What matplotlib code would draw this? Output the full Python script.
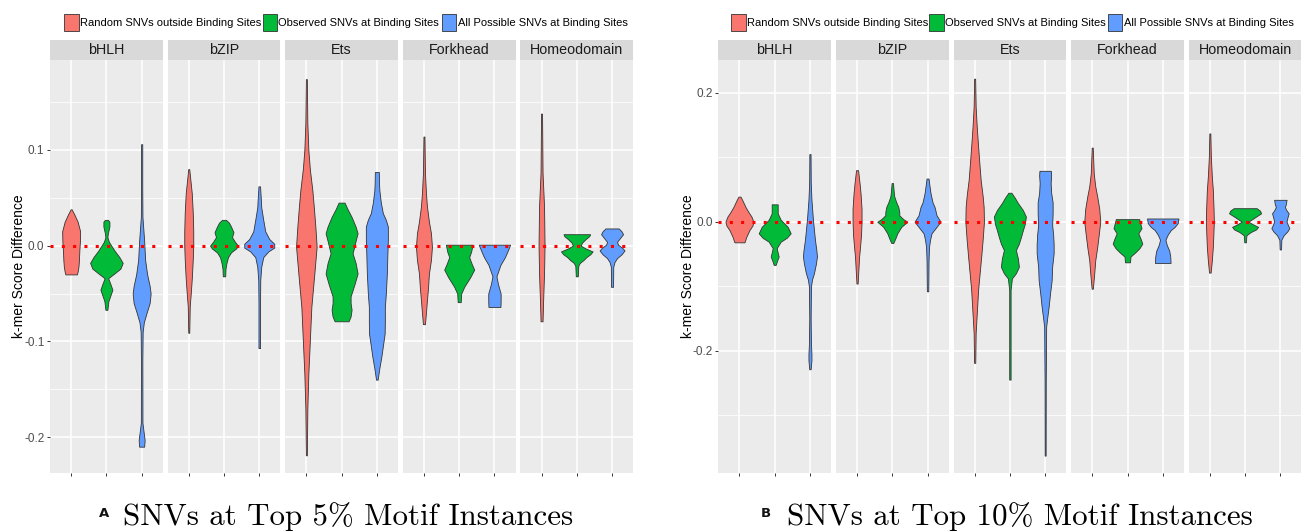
import matplotlib.pyplot as plt
from matplotlib.patches import Rectangle
import numpy as np

# Categorias y colores (estilo ggplot)
families = ["bHLH", "bZIP", "Ets", "Forkhead", "Homeodomain"]
groups = ["Random SNVs outside Binding Sites",
          "Observed SNVs at Binding Sites",
          "All Possible SNVs at Binding Sites"]
colors = ["#F8766D", "#00BA38", "#619CFF"]

# Perfiles de los violines: (valor, semi-ancho relativo)
# Panel A: top 5%
a_bhlh = [
    [(0.038, 0.5), (0.033, 3), (0.025, 6.5), (0.015, 9), (0.005, 8.8), (-0.005, 8.2),
     (-0.015, 7.8), (-0.022, 7.3), (-0.027, 6.5), (-0.030, 5.8)],
    [(0.027, 1.5), (0.025, 3), (0.020, 3), (0.013, 1.5), (0.009, 1), (0.004, 2.5),
     (-0.005, 8), (-0.012, 13), (-0.018, 16.3), (-0.024, 14), (-0.029, 8), (-0.034, 1.8),
     (-0.040, 4), (-0.046, 6), (-0.052, 4), (-0.058, 2), (-0.067, 1)],
    [(0.106, 0.6), (0.060, 0.6), (0.030, 0.8), (0.020, 1.5), (0.005, 2.5), (-0.015, 3.5),
     (-0.030, 5.5), (-0.042, 8), (-0.050, 9), (-0.060, 8), (-0.070, 5), (-0.080, 2.2),
     (-0.090, 1), (-0.120, 0.7), (-0.185, 0.8), (-0.195, 2), (-0.203, 3), (-0.210, 2.5)],
]
a_bzip = [
    [(0.080, 0.5), (0.070, 1.5), (0.055, 3), (0.035, 4), (0.015, 4.5), (0.0, 4.5),
     (-0.015, 4), (-0.035, 3), (-0.050, 2), (-0.063, 1), (-0.091, 0.5)],
    [(0.027, 2), (0.024, 5), (0.020, 7), (0.014, 9.5), (0.009, 8), (0.004, 11), (0.0, 14),
     (-0.003, 12), (-0.007, 7), (-0.012, 4), (-0.018, 2.5), (-0.024, 1.5), (-0.032, 1.2)],
    [(0.062, 0.8), (0.050, 1.5), (0.040, 2), (0.027, 4), (0.015, 6), (0.007, 10),
     (0.002, 15), (-0.002, 15), (-0.006, 9), (-0.012, 4), (-0.022, 2), (-0.036, 1),
     (-0.060, 0.8), (-0.107, 0.8)],
]
a_ets = [
    [(0.174, 0.5), (0.128, 1), (0.100, 2), (0.080, 3.5), (0.058, 6), (0.040, 7.5),
     (0.020, 9), (-0.001, 10.3), (-0.029, 8), (-0.064, 5), (-0.099, 3.5), (-0.134, 2),
     (-0.170, 1), (-0.219, 0.5)],
    [(0.045, 3), (0.038, 6), (0.030, 10), (0.020, 14), (0.013, 16), (0.005, 14),
     (-0.008, 11), (-0.018, 14), (-0.029, 16), (-0.040, 13), (-0.053, 9), (-0.060, 9),
     (-0.067, 10), (-0.074, 9), (-0.079, 7)],
    [(0.077, 2), (0.065, 2.2), (0.058, 2.5), (0.045, 4), (0.034, 6), (0.027, 9),
     (0.020, 11), (0.006, 11), (-0.010, 10.5), (-0.029, 10), (-0.050, 9), (-0.064, 8),
     (-0.080, 8), (-0.092, 7.8), (-0.105, 6), (-0.116, 4.5), (-0.128, 2.5), (-0.140, 0.8)],
]
a_forkhead = [
    [(0.114, 0.5), (0.076, 1), (0.055, 2), (0.041, 3), (0.025, 5), (0.013, 7),
     (-0.001, 8), (-0.015, 7), (-0.029, 5), (-0.045, 4), (-0.057, 3), (-0.070, 2),
     (-0.082, 1)],
    [(0.001, 13.3), (-0.006, 12), (-0.012, 10), (-0.019, 12.5), (-0.025, 15),
     (-0.033, 11), (-0.043, 5), (-0.050, 2), (-0.059, 1.5)],
    [(0.001, 15.7), (-0.006, 13), (-0.012, 10.5), (-0.020, 6), (-0.032, 2),
     (-0.040, 3.5), (-0.050, 6.2), (-0.058, 6.2), (-0.064, 6)],
]
a_homeo = [
    [(0.138, 0.5), (0.076, 1), (0.041, 2.5), (0.0, 3), (-0.029, 2.5), (-0.060, 1.5),
     (-0.079, 1)],
    [(0.012, 13.3), (0.010, 12.5), (0.007, 9), (0.003, 5), (0.0, 4), (-0.003, 9),
     (-0.006, 15.8), (-0.009, 13.5), (-0.012, 9.5), (-0.015, 6.7), (-0.018, 3),
     (-0.021, 1.5), (-0.032, 1)],
    [(0.018, 6.7), (0.015, 9.5), (0.012, 11), (0.008, 8), (0.004, 5), (0.001, 6),
     (-0.002, 10), (-0.005, 12.5), (-0.009, 9.5), (-0.013, 5), (-0.017, 2.5),
     (-0.022, 1.2), (-0.043, 1)],
]

# Panel B: top 10%
b_bhlh = [
    [(0.039, 1), (0.033, 3), (0.023, 6), (0.015, 9), (0.008, 12), (0.0, 14),
     (-0.006, 13), (-0.013, 10), (-0.023, 7), (-0.032, 5)],
    [(0.027, 3), (0.020, 3), (0.013, 3), (0.003, 6), (-0.008, 13), (-0.018, 16),
     (-0.025, 12), (-0.031, 6), (-0.041, 2), (-0.048, 3), (-0.054, 4), (-0.060, 2.5),
     (-0.067, 1)],
    [(0.105, 0.6), (0.060, 0.8), (0.034, 1.5), (0.003, 3), (-0.028, 5), (-0.045, 6.5),
     (-0.054, 7), (-0.065, 6), (-0.080, 4), (-0.090, 2), (-0.101, 1), (-0.150, 0.7),
     (-0.189, 1), (-0.205, 1.5), (-0.215, 1.5), (-0.229, 0.7)],
]
b_bzip = [
    [(0.080, 1), (0.060, 2.5), (0.044, 3.5), (0.020, 4.5), (0.0, 4.5), (-0.020, 4),
     (-0.039, 3), (-0.055, 2), (-0.070, 1.5), (-0.096, 0.6)],
    [(0.060, 0.7), (0.045, 1.5), (0.039, 2), (0.030, 4), (0.023, 6), (0.015, 7),
     (0.010, 7), (0.004, 11), (0.0, 15), (-0.004, 12), (-0.008, 9), (-0.018, 5),
     (-0.026, 3), (-0.033, 1)],
    [(0.067, 1), (0.055, 2), (0.044, 3), (0.030, 5), (0.023, 7), (0.010, 9), (0.0, 13),
     (-0.006, 10), (-0.018, 4), (-0.028, 2.5), (-0.039, 1.5), (-0.060, 1), (-0.108, 0.7)],
]
b_ets = [
    [(0.222, 0.5), (0.179, 1), (0.150, 2), (0.127, 3), (0.095, 4.5), (0.065, 6),
     (0.040, 8), (0.023, 9), (0.0, 9.3), (-0.028, 8), (-0.055, 6.5), (-0.080, 5),
     (-0.105, 3.5), (-0.132, 2.5), (-0.173, 1), (-0.219, 0.6)],
    [(0.045, 1.5), (0.037, 5), (0.029, 8), (0.018, 13), (0.008, 16), (-0.003, 15),
     (-0.013, 13), (-0.024, 11), (-0.034, 9), (-0.044, 6), (-0.057, 8), (-0.070, 9),
     (-0.080, 6), (-0.088, 2), (-0.106, 0.7), (-0.245, 0.7)],
    [(0.079, 5.7), (0.072, 6), (0.060, 5.5), (0.045, 6), (0.030, 7.5), (0.013, 7.5),
     (-0.005, 7), (-0.020, 8), (-0.035, 8.5), (-0.049, 8.5), (-0.070, 7), (-0.091, 6.5),
     (-0.110, 5), (-0.132, 3.5), (-0.150, 2), (-0.163, 1), (-0.250, 0.6), (-0.363, 0.5)],
]
b_forkhead = [
    [(0.115, 0.5), (0.075, 1.5), (0.055, 3), (0.039, 5), (0.020, 7), (0.0, 8),
     (-0.020, 6.5), (-0.039, 5), (-0.060, 3), (-0.080, 2), (-0.104, 0.6)],
    [(0.004, 11.7), (-0.004, 13), (-0.010, 14), (-0.018, 10.8), (-0.026, 13),
     (-0.034, 14.8), (-0.041, 12), (-0.048, 7.5), (-0.054, 3), (-0.063, 2.5)],
    [(0.005, 15.7), (-0.002, 15), (-0.008, 12), (-0.013, 8), (-0.020, 5), (-0.028, 2.7),
     (-0.036, 4), (-0.045, 6.5), (-0.054, 7.5), (-0.064, 7.8)],
]
b_homeo = [
    [(0.137, 0.5), (0.101, 1), (0.070, 2), (0.049, 3), (0.020, 3.7), (0.0, 4),
     (-0.020, 3.5), (-0.039, 3), (-0.060, 2), (-0.079, 0.8)],
    [(0.021, 11.5), (0.017, 15), (0.013, 16), (0.007, 10), (0.0, 3.3), (-0.005, 9),
     (-0.008, 13), (-0.012, 11), (-0.016, 5.7), (-0.021, 1.3), (-0.032, 0.8)],
    [(0.034, 6.2), (0.027, 5.5), (0.023, 4.5), (0.018, 6), (0.013, 8.3), (0.006, 7),
     (0.0, 6.2), (-0.005, 7.5), (-0.010, 9), (-0.015, 7), (-0.021, 3.3), (-0.028, 1),
     (-0.043, 0.7)],
]

panel_a = [a_bhlh, a_bzip, a_ets, a_forkhead, a_homeo]
panel_b = [b_bhlh, b_bzip, b_ets, b_forkhead, b_homeo]

a_yticks = [-0.2, -0.1, 0.0, 0.1]
a_ylabels = ["-0.2", "-0.1", "0.0", "0.1"]
a_minor = [-0.15, -0.05, 0.05, 0.15]
b_yticks = [-0.2, 0.0, 0.2]
b_ylabels = ["-0.2", "0.0", "0.2"]
b_minor = [-0.3, -0.1, 0.1]

captions = ["SNVs at Top 5% Motif Instances", "SNVs at Top 10% Motif Instances"]
letters = ["A", "B"]

# Figura en pixeles
W, H = 1303, 532
fig = plt.figure(figsize=(W / 100, H / 100), dpi=100)
plt.rcParams["font.family"] = ["Liberation Sans", "DejaVu Sans"]


def px_axes(x0, y0, w, h):
    return fig.add_axes([x0 / W, 1 - (y0 + h) / H, w / W, h / H])


panels = [
    {"data": panel_a, "left": 50.0, "ylim": (-0.2375, 0.194),
     "ticks": a_yticks, "labels": a_ylabels, "minor": a_minor, "lab_x": -0.215},
    {"data": panel_b, "left": 718.3, "ylim": (-0.390, 0.251),
     "ticks": b_yticks, "labels": b_ylabels, "minor": b_minor, "lab_x": -0.205},
]
top, bottom = 60.0, 473.0
facet_w, step = 112.8, 117.6
px_per_unit = facet_w / 3.2

for p in panels:
    for k, fam in enumerate(families):
        x0 = p["left"] + k * step
        ax = px_axes(x0, top, facet_w, bottom - top)
        ax.set_facecolor("#EBEBEB")
        ax.set_xlim(0.4, 3.6)
        ax.set_ylim(*p["ylim"])
        # Grid estilo ggplot
        for m in p["minor"]:
            ax.axhline(m, color="white", lw=0.55, zorder=0)
        for t in p["ticks"]:
            ax.axhline(t, color="white", lw=1.1, zorder=0)
        for xv in [1, 2, 3]:
            ax.axvline(xv, color="white", lw=1.1, zorder=0)
        # Violines
        for j, prof in enumerate(p["data"][k]):
            ys = np.array([v for v, _ in prof])
            hw = np.array([w for _, w in prof]) / px_per_unit
            ax.fill_betweenx(ys, (j + 1) - hw, (j + 1) + hw,
                             facecolor=colors[j], edgecolor="#333333",
                             lw=0.6, zorder=2)
        # Linea punteada en cero
        ax.axhline(0, color="red", lw=2.2, ls=(0, (1, 2.7)), zorder=3)
        for s in ax.spines.values():
            s.set_visible(False)
        ax.set_xticks([1, 2, 3])
        ax.set_xticklabels([])
        ax.tick_params(axis="x", length=2.5, width=0.7, color="#333333")
        if k == 0:
            ax.set_yticks(p["ticks"])
            ax.set_yticklabels(p["labels"], fontsize=8.5, color="#4D4D4D")
            ax.tick_params(axis="y", length=2.5, width=0.7, color="#333333", pad=1.5)
            ax.set_ylabel("k-mer Score Difference", fontsize=10)
            ax.yaxis.set_label_coords(p["lab_x"], 0.5)
        else:
            ax.set_yticks([])
        # Tira con el nombre de la familia
        sax = px_axes(x0, 40, facet_w, 20)
        sax.set_facecolor("#D9D9D9")
        sax.set_xticks([])
        sax.set_yticks([])
        for s in sax.spines.values():
            s.set_visible(False)
        sax.text(0.5, 0.48, fam, ha="center", va="center", fontsize=10.3,
                 color="#1A1A1A", transform=sax.transAxes)

# Capa superior para leyendas y titulos
over = fig.add_axes([0, 0, 1, 1])
over.set_xlim(0, W)
over.set_ylim(H, 0)
over.axis("off")

legend_keys = [[64, 262.5, 441.7], [731, 929, 1107.5]]
for keys in legend_keys:
    for j, kx in enumerate(keys):
        over.add_patch(Rectangle((kx, 14), 14.5, 17, facecolor=colors[j],
                                 edgecolor="#333333", lw=0.6))
        over.text(kx + 16, 22.5, groups[j], fontsize=8, va="center", ha="left")

letter_x = [99, 761]
caption_x = [123, 787]
for i in range(2):
    over.text(letter_x[i], 517, letters[i], fontsize=9.5, fontweight="bold",
              family="DejaVu Sans", va="baseline", ha="left", color="#111111")
    over.text(caption_x[i], 525, captions[i], fontsize=22.3,
              family=["cmr10", "DejaVu Serif"], va="baseline", ha="left")

plt.savefig("out.png", dpi=100)
